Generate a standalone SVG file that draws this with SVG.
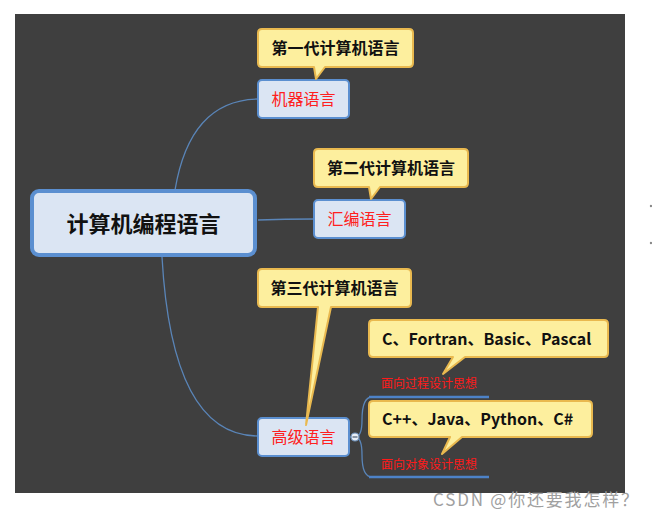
<svg xmlns="http://www.w3.org/2000/svg" width="652" height="520" viewBox="0 0 652 520">
<style>
.bg{fill:#3f3f3f}
.conn{fill:none;stroke:#5a85b8;stroke-width:1.3}
.uline{fill:none;stroke:#4d82c8;stroke-width:2.5}
.node{fill:#dbe5f3;stroke:#5b8fd0;stroke-width:2}
.root{fill:#dbe5f3;stroke:#5b8fd0;stroke-width:4}
.call{fill:#fdef9e;stroke:#e9b94f;stroke-width:2;stroke-linejoin:round}
.t{font-family:"Noto Sans CJK SC","Liberation Sans",sans-serif}
.red{fill:#ff2020;font-size:16px}
.bold{font-weight:bold;fill:#111;font-size:16px}
.lbl{fill:#ff1a1a;font-size:12px}
</style>
<rect width="652" height="520" fill="#ffffff"/>
<rect class="bg" x="15" y="14" width="610" height="479"/>
<g id="connectors">
<path class="conn" d="M175,190 Q190,100 258,99"/>
<path class="conn" d="M258,220 Q285,219 314,219"/>
<path class="conn" d="M162,257 Q172,436 258,436"/>
<path class="conn" d="M350,437 L355,437"/>
<path class="conn" d="M355,437 Q362,437 362,420 Q362,397 372,397"/>
<path class="conn" d="M355,437 Q362,437 362,455 Q362,477 372,477"/>
</g>
<g id="root">
<rect class="root" x="32" y="191" width="223" height="64" rx="7"/>
<text class="t" x="143.5" y="232" text-anchor="middle" font-size="22" font-weight="bold" fill="#111">计算机编程语言</text>
</g>
<g id="n1">
<rect class="node" x="258" y="80" width="91" height="38" rx="4"/>
<text class="t red" x="303.5" y="105" text-anchor="middle">机器语言</text>
</g>
<g id="c1">
<path class="call" d="M262,29 H409 Q413,29 413,33 V63 Q413,67 409,67 H325 L316,79 L314,67 H262 Q258,67 258,63 V33 Q258,29 262,29 Z"/>
<text class="t bold" x="335.5" y="54" text-anchor="middle">第一代计算机语言</text>
</g>
<g id="n2">
<rect class="node" x="314" y="200" width="91" height="38" rx="4"/>
<text class="t red" x="359.5" y="225" text-anchor="middle">汇编语言</text>
</g>
<g id="c2">
<path class="call" d="M318,149 H464 Q468,149 468,153 V183 Q468,187 464,187 H380 L371,199 L369,187 H318 Q314,187 314,183 V153 Q314,149 318,149 Z"/>
<text class="t bold" x="391" y="174" text-anchor="middle">第二代计算机语言</text>
</g>
<g id="n3">
<rect class="node" x="258" y="418" width="91" height="38" rx="4"/>
<text class="t red" x="303.5" y="443" text-anchor="middle">高级语言</text>
<circle cx="355" cy="437" r="4" fill="#e8eef6" stroke="#6d8fb8" stroke-width="1.2"/>
<line x1="352.5" y1="437" x2="357.5" y2="437" stroke="#4a5a70" stroke-width="1.2"/>
</g>
<g id="c3">
<path class="call" d="M262,269 H407 Q411,269 411,273 V303 Q411,307 407,307 H331 L306,425 L318,307 H262 Q258,307 258,303 V273 Q258,269 262,269 Z"/>
<text class="t bold" x="334.5" y="294" text-anchor="middle">第三代计算机语言</text>
</g>
<g id="s1">
<line class="uline" x1="369" y1="397" x2="489" y2="397"/>
<text class="t lbl" x="381" y="388">面向过程设计思想</text>
</g>
<g id="cs1">
<path class="call" d="M373,320 H604 Q608,320 608,324 V353 Q608,357 604,357 H465 L443,374 L453,357 H373 Q369,357 369,353 V324 Q369,320 373,320 Z"/>
<text class="t bold" x="382" y="345" font-size="16">C、Fortran、Basic、Pascal</text>
</g>
<g id="s2">
<line class="uline" x1="369" y1="477" x2="489" y2="477"/>
<text class="t lbl" x="381" y="469">面向对象设计思想</text>
</g>
<g id="cs2">
<path class="call" d="M373,401 H588 Q592,401 592,405 V433 Q592,437 588,437 H462 L442,454 L450,437 H373 Q369,437 369,433 V405 Q369,401 373,401 Z"/>
<text class="t bold" x="382" y="425" font-size="16">C++、Java、Python、C#</text>
</g>
<circle cx="651" cy="206" r="1.2" fill="#888"/>
<circle cx="651" cy="243" r="1.2" fill="#888"/>
<text class="t" x="433" y="506" font-size="17" fill="#a0a0a0" textLength="205" lengthAdjust="spacing">CSDN @你还要我怎样？</text>
</svg>
